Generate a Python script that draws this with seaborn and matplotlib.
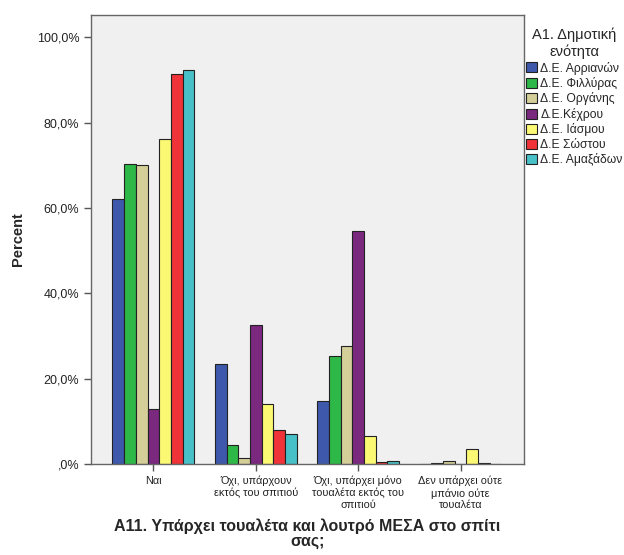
import matplotlib.pyplot as plt
import matplotlib.ticker as mticker
import pandas as pd
import seaborn as sns

# Categories (x axis) and municipal units (hue)
categories = [
    "Ναι",
    "Όχι, υπάρχουν\nεκτός του σπιτιού",
    "Όχι, υπάρχει μόνο\nτουαλέτα εκτός του\nσπιτιού",
    "Δεν υπάρχει ούτε\nμπάνιο ούτε\nτουαλέτα",
]
units = [
    "Δ.Ε. Αρριανών",
    "Δ.Ε. Φιλλύρας",
    "Δ.Ε. Οργάνης",
    "Δ.Ε.Κέχρου",
    "Δ.Ε. Ιάσμου",
    "Δ.Ε Σώστου",
    "Δ.Ε. Αμαξάδων",
]
colors = ["#3E58AC", "#2EB848", "#D4CE98", "#7B287F", "#FBF873", "#EF3338", "#48C0C7"]

# Percent per unit, one value per category
arrianon = [62.0, 23.4, 14.8, 0.0]
fillyras = [70.3, 4.4, 25.2, 0.2]
organis = [70.1, 1.5, 27.7, 0.7]
kechrou = [13.0, 32.5, 54.6, 0.0]
iasmou = [76.2, 14.1, 6.5, 3.4]
sostou = [91.4, 7.9, 0.5, 0.2]
amaxadon = [92.3, 7.0, 0.7, 0.0]

series = [arrianon, fillyras, organis, kechrou, iasmou, sostou, amaxadon]
rows = []
for unit, vals in zip(units, series):
    for cat, v in zip(categories, vals):
        rows.append({"category": cat, "unit": unit, "percent": v})
df = pd.DataFrame(rows)

sns.set_style("white")
plt.rcParams["font.family"] = ["Liberation Sans", "DejaVu Sans"]

fig = plt.figure(figsize=(6.24, 5.55), dpi=100)
ax = fig.add_axes([91 / 624, 1 - 464 / 555, 433 / 624, 449 / 555])
ax.set_facecolor("#F0F0F0")

sns.barplot(data=df, x="category", y="percent", hue="unit", order=categories,
            hue_order=units, palette=colors, saturation=1, width=0.8,
            edgecolor="#222222", linewidth=0.8, ax=ax, legend=False)

ax.set_xlim(-0.61, 3.62)
ax.set_ylim(0, 105.2)
ax.set_yticks([0, 20, 40, 60, 80, 100])
ax.yaxis.set_major_formatter(mticker.FuncFormatter(
    lambda v, p: ",0%" if v == 0 else f"{v:.1f}%".replace(".", ",")))
ax.tick_params(axis="both", direction="out", length=5, width=1, color="#555555",
               labelcolor="#222222", bottom=True, left=True)
ax.tick_params(axis="y", labelsize=9)
ax.tick_params(axis="x", labelsize=7.8)
for s in ax.spines.values():
    s.set_color("#666666")
    s.set_linewidth(1)

ax.set_ylabel("Percent", fontsize=10.5, fontweight="bold", labelpad=8)
ax.set_xlabel("A11. Υπάρχει τουαλέτα και λουτρό ΜΕΣΑ στο σπίτι\nσας;",
              fontsize=11.5, fontweight="bold", labelpad=6, linespacing=0.95)

handles = [plt.Rectangle((0, 0), 1, 1, facecolor=c, edgecolor="#222222", linewidth=0.8)
           for c in colors]
leg = fig.legend(handles, units, title="A1. Δημοτική\nενότητα", loc="upper left",
                 bbox_to_anchor=(521 / 624, 1 - 23 / 555), frameon=False,
                 fontsize=8.7, title_fontsize=10.5, handlelength=0.9, handleheight=0.9,
                 handletextpad=0.3, labelspacing=0.2, borderaxespad=0)
leg.get_title().set_multialignment("center")

fig.savefig("out.png", dpi=100)
